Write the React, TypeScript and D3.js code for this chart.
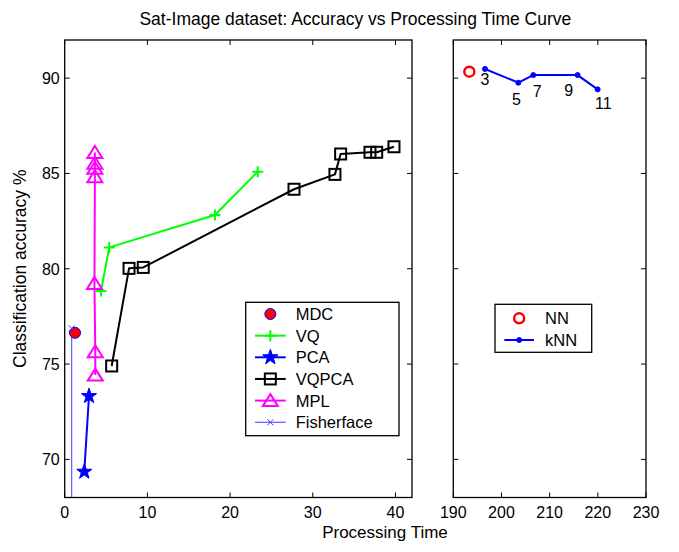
import React from 'react';
import * as d3 from 'd3';

// ---------- data ----------
const chartTitle = 'Sat-Image dataset: Accuracy vs Processing Time Curve';
const xAxisLabel = 'Processing Time';
const yAxisLabel = 'Classification accuracy %';

const leftXTicks = [0, 10, 20, 30, 40];
const rightXTicks = [190, 200, 210, 220, 230];
const yTicks = [70, 75, 80, 85, 90];

const mdcTime = [1.25];
const mdcAcc = [76.64];

const vqTime = [4.39, 5.39, 18.17, 23.34];
const vqAcc = [78.83, 81.12, 82.82, 85.09];

const pcaTime = [2.37, 2.94];
const pcaAcc = [69.35, 73.32];

const vqpcaTime = [5.68, 7.78, 9.5, 27.73, 32.68, 33.37, 36.92, 37.73, 39.82];
const vqpcaAcc = [74.9, 80.02, 80.07, 84.17, 84.95, 86.02, 86.11, 86.11, 86.4];

const mplTime = [3.7, 3.7, 3.6, 3.65, 3.65, 3.65, 3.65];
const mplAcc = [74.42, 75.65, 79.23, 84.83, 85.27, 85.53, 86.1];

const fisherTime = [0.85, 0.85];
const fisherAcc = [76.87, 60];

const nnTime = [193.33];
const nnAcc = [90.34];

const knnK = [3, 5, 7, 9, 11];
const knnTime = [196.58, 203.5, 206.6, 215.8, 219.96];
const knnAcc = [90.48, 89.76, 90.16, 90.16, 89.41];

const leftLegendNames = ['MDC', 'VQ', 'PCA', 'VQPCA', 'MPL', 'Fisherface'];
const rightLegendNames = ['NN', 'kNN'];

// ---------- layout ----------
const W = 679;
const H = 552;
const TOP = 40;
const BOTTOM = 497.5;
const L0 = 64.7;
const L1 = 412;
const R0 = 453.3;
const R1 = 646;
const FONT = 'Liberation Sans, Arial, Helvetica, sans-serif';

const xL = d3.scaleLinear().domain([0, 42]).range([L0, L1]);
const xR = d3.scaleLinear().domain([190, 230]).range([R0, R1]);
const y = d3.scaleLinear().domain([68, 92]).range([BOTTOM, TOP]);

const zip = (xs: number[], ys: number[]) => xs.map((v, i) => [v, ys[i]] as [number, number]);

function starPath(R: number) {
  const r = R * 0.4;
  const pts: string[] = [];
  for (let i = 0; i < 10; i++) {
    const a = -Math.PI / 2 + (i * Math.PI) / 5;
    const rr = i % 2 === 0 ? R : r;
    pts.push(`${(rr * Math.cos(a)).toFixed(2)},${(rr * Math.sin(a)).toFixed(2)}`);
  }
  return 'M' + pts.join('L') + 'Z';
}

type MarkerKind = 'circleFilled' | 'plus' | 'star' | 'square' | 'triangle' | 'x' | 'ring' | 'dot';

function Marker({ kind, cx, cy, color }: { kind: MarkerKind; cx: number; cy: number; color: string }) {
  const t = `translate(${cx},${cy})`;
  switch (kind) {
    case 'circleFilled':
      return <circle cx={cx} cy={cy} r={5.5} fill="#ff0000" stroke="#0000ff" strokeWidth={1} />;
    case 'plus':
      return (
        <path transform={t} d="M-5.5,0H5.5M0,-5.5V5.5" stroke={color} strokeWidth={2} fill="none" />
      );
    case 'star':
      return <path transform={t} d={starPath(8)} fill={color} stroke={color} strokeWidth={1} />;
    case 'square':
      return <rect x={cx - 5.5} y={cy - 5.5} width={11} height={11} fill="none" stroke={color} strokeWidth={2} />;
    case 'triangle':
      return <path transform={t} d="M0,-6.5L7.5,5.5L-7.5,5.5Z" fill="none" stroke={color} strokeWidth={2} />;
    case 'x':
      return <path transform={t} d="M-3,-3L3,3M-3,3L3,-3" stroke={color} strokeWidth={1} fill="none" />;
    case 'ring':
      return <circle cx={cx} cy={cy} r={5} fill="none" stroke={color} strokeWidth={2.5} />;
    case 'dot':
      return <circle cx={cx} cy={cy} r={2.5} fill={color} stroke={color} />;
  }
  return null;
}

interface Series {
  name: string;
  xs: number[];
  ys: number[];
  color: string;
  lineWidth: number;
  marker: MarkerKind;
  line: boolean;
}

const leftSeries: Series[] = [
  { name: leftLegendNames[0], xs: mdcTime, ys: mdcAcc, color: '#ff0000', lineWidth: 0, marker: 'circleFilled', line: false },
  { name: leftLegendNames[1], xs: vqTime, ys: vqAcc, color: '#00ff00', lineWidth: 2, marker: 'plus', line: true },
  { name: leftLegendNames[2], xs: pcaTime, ys: pcaAcc, color: '#0000ff', lineWidth: 2, marker: 'star', line: true },
  { name: leftLegendNames[3], xs: vqpcaTime, ys: vqpcaAcc, color: '#000000', lineWidth: 2, marker: 'square', line: true },
  { name: leftLegendNames[4], xs: mplTime, ys: mplAcc, color: '#ff00ff', lineWidth: 2, marker: 'triangle', line: true },
  { name: leftLegendNames[5], xs: fisherTime, ys: fisherAcc, color: '#3a3aff', lineWidth: 1, marker: 'x', line: true },
];

const rightSeries: Series[] = [
  { name: rightLegendNames[0], xs: nnTime, ys: nnAcc, color: '#ff0000', lineWidth: 0, marker: 'ring', line: false },
  { name: rightLegendNames[1], xs: knnTime, ys: knnAcc, color: '#0000ff', lineWidth: 2, marker: 'dot', line: true },
];

// label offsets for the k values (pixels, relative to the point)
const kLabelOffsets: [number, number][] = [
  [0, 16],
  [-2, 22],
  [4, 22],
  [-9, 20.5],
  [5.6, 19.5],
];

function Panel({
  x,
  ticks,
  series,
  id,
  showYLabels,
}: {
  x: d3.ScaleLinear<number, number>;
  ticks: number[];
  series: Series[];
  id: string;
  showYLabels: boolean;
}) {
  const [a, b] = x.range();
  const line = (s: Series) =>
    d3
      .line<[number, number]>()
      .x((d) => x(d[0]))
      .y((d) => y(d[1]))(zip(s.xs, s.ys)) || '';
  return (
    <g>
      <defs>
        <clipPath id={id}>
          <rect x={a} y={TOP} width={b - a} height={BOTTOM - TOP} />
        </clipPath>
      </defs>
      <rect x={a} y={TOP} width={b - a} height={BOTTOM - TOP} fill="#fff" />
      <g clipPath={`url(#${id})`}>
        {series.map((s) =>
          s.line ? (
            <path key={s.name + 'l'} d={line(s)} fill="none" stroke={s.color} strokeWidth={s.lineWidth} strokeLinejoin="round" />
          ) : null
        )}
        {series.map((s) =>
          s.xs.map((v, i) => <Marker key={s.name + i} kind={s.marker} cx={x(v)} cy={y(s.ys[i])} color={s.color} />)
        )}
      </g>
      {/* axes box */}
      <rect x={a} y={TOP} width={b - a} height={BOTTOM - TOP} fill="none" stroke="#000" strokeWidth={1.3} />
      {ticks.map((t) => (
        <g key={'xt' + t}>
          <line x1={x(t)} x2={x(t)} y1={BOTTOM} y2={BOTTOM - 5} stroke="#000" strokeWidth={1} />
          <line x1={x(t)} x2={x(t)} y1={TOP} y2={TOP + 5} stroke="#000" strokeWidth={1} />
          <text x={x(t)} y={518} textAnchor="middle" fontSize={16} fontFamily={FONT} fill="#000">
            {t}
          </text>
        </g>
      ))}
      {yTicks.map((t) => (
        <g key={'yt' + t}>
          <line x1={a} x2={a + 5} y1={y(t)} y2={y(t)} stroke="#000" strokeWidth={1} />
          <line x1={b} x2={b - 5} y1={y(t)} y2={y(t)} stroke="#000" strokeWidth={1} />
          {showYLabels ? (
            <text x={a - 5} y={y(t)} dy="0.36em" textAnchor="end" fontSize={16} fontFamily={FONT} fill="#000">
              {t}
            </text>
          ) : null}
        </g>
      ))}
    </g>
  );
}

function Legend({
  series,
  x0,
  y0,
  w,
  h,
  rowH,
  firstRowY,
  lineX0,
  lineX1,
  textX,
}: {
  series: Series[];
  x0: number;
  y0: number;
  w: number;
  h: number;
  rowH: number;
  firstRowY: number;
  lineX0: number;
  lineX1: number;
  textX: number;
}) {
  return (
    <g>
      <rect x={x0} y={y0} width={w} height={h} fill="#fff" stroke="#000" strokeWidth={1.3} />
      {series.map((s, i) => {
        const cy = firstRowY + i * rowH;
        const mx = (lineX0 + lineX1) / 2;
        return (
          <g key={s.name}>
            {s.line ? <line x1={lineX0} x2={lineX1} y1={cy} y2={cy} stroke={s.color} strokeWidth={s.lineWidth} /> : null}
            <Marker kind={s.marker} cx={mx} cy={cy} color={s.color} />
            <text x={textX} y={cy} dy="0.36em" fontSize={16.5} fontFamily={FONT} fill="#000">
              {s.name}
            </text>
          </g>
        );
      })}
    </g>
  );
}

export default function App() {
  return (
    <svg
      width={W}
      height={H}
      viewBox={`0 0 ${W} ${H}`}
      style={{ position: 'absolute', left: 0, top: 0, background: '#fff' }}
    >
      <rect x={0} y={0} width={W} height={H} fill="#fff" />
      <text x={(L0 + R1) / 2} y={25} textAnchor="middle" fontSize={17.5} fontFamily={FONT} fill="#000">
        {chartTitle}
      </text>
      <Panel x={xL} ticks={leftXTicks} series={leftSeries} id="clipL" showYLabels={true} />
      <Panel x={xR} ticks={rightXTicks} series={rightSeries} id="clipR" showYLabels={false} />
      {knnK.map((k, i) => (
        <text
          key={'k' + k}
          x={xR(knnTime[i]) + kLabelOffsets[i][0]}
          y={y(knnAcc[i]) + kLabelOffsets[i][1]}
          textAnchor="middle"
          fontSize={16}
          fontFamily={FONT}
          fill="#000"
        >
          {k}
        </text>
      ))}
      <Legend
        series={leftSeries}
        x0={245.7}
        y0={302.3}
        w={153.3}
        h={133.4}
        rowH={21.65}
        firstRowY={314}
        lineX0={255}
        lineX1={285.7}
        textX={295.7}
      />
      <Legend
        series={rightSeries}
        x0={495}
        y0={304.3}
        w={96.7}
        h={48}
        rowH={21.7}
        firstRowY={318.3}
        lineX0={504.3}
        lineX1={534}
        textX={545}
      />
      <text x={385} y={538} textAnchor="middle" fontSize={17} fontFamily={FONT} fill="#000">
        {xAxisLabel}
      </text>
      <text
        transform={`translate(26,${(TOP + BOTTOM) / 2}) rotate(-90)`}
        textAnchor="middle"
        fontSize={17.5}
        fontFamily={FONT}
        fill="#000"
      >
        {yAxisLabel}
      </text>
    </svg>
  );
}
